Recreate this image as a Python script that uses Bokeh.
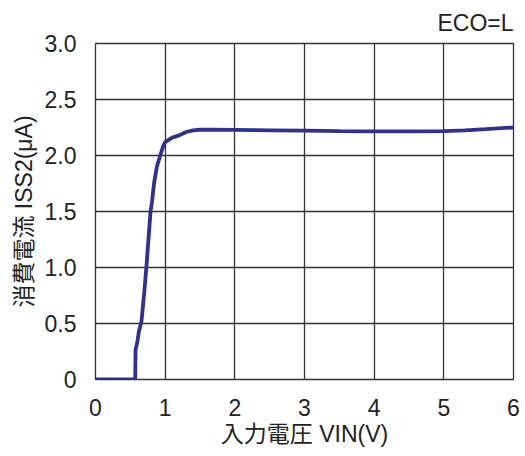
from bokeh.plotting import figure
from bokeh.models import FixedTicker, Range1d, ColumnDataSource, Title
from bokeh.embed import file_html
from bokeh.resources import INLINE

# Data
vin = [0.0, 0.57, 0.575, 0.6, 0.62, 0.66, 0.7, 0.73, 0.76, 0.79, 0.81, 0.84, 0.88,
       0.93, 0.97, 1.0, 1.05, 1.1, 1.2, 1.3, 1.4, 1.5, 1.7, 2.0, 2.5, 3.0, 3.5,
       4.0, 4.5, 5.0, 5.3, 5.6, 6.0]
iss2 = [0.0, 0.0, 0.27, 0.33, 0.42, 0.52, 0.78, 1.0, 1.25, 1.5, 1.58, 1.75, 1.9,
        2.0, 2.08, 2.12, 2.14, 2.16, 2.18, 2.21, 2.225, 2.23, 2.23, 2.228, 2.225,
        2.222, 2.218, 2.215, 2.215, 2.218, 2.225, 2.235, 2.25]

x_ticks = [0, 1, 2, 3, 4, 5, 6]
y_ticks = [0, 0.5, 1.0, 1.5, 2.0, 2.5, 3.0]
y_tick_labels = ["0", "0.5", "1.0", "1.5", "2.0", "2.5", "3.0"]
x_title = "入力電圧 VIN(V)"
y_title = "消費電流 ISS2(μA)"
note = "ECO=L"

FONT = "'Liberation Sans', 'Noto Sans CJK JP'"
col = "#222222"

p = figure(width=523, height=450, output_backend="svg", toolbar_location=None,
           x_range=Range1d(0, 6), y_range=Range1d(0, 3),
           min_border_left=95, min_border_right=10, min_border_top=42,
           min_border_bottom=71)
p.background_fill_color = "white"
p.border_fill_color = "white"
p.outline_line_color = "#333333"
p.outline_line_width = 1.3

src = ColumnDataSource(dict(x=vin, y=iss2))
p.line("x", "y", source=src, line_color="#2e3192", line_width=3.8)

for ax in (p.xaxis[0], p.yaxis[0]):
    ax.axis_line_color = None
    ax.major_tick_line_color = None
    ax.minor_tick_line_color = None
    ax.major_label_text_font = FONT
    ax.major_label_text_font_size = "23px"
    ax.major_label_text_color = col
    ax.axis_label_text_font = FONT
    ax.axis_label_text_font_size = "23px"
    ax.axis_label_text_font_style = "normal"
    ax.axis_label_text_color = col

p.xaxis[0].ticker = FixedTicker(ticks=x_ticks)
p.yaxis[0].ticker = FixedTicker(ticks=y_ticks)
p.yaxis[0].major_label_overrides = {t: l for t, l in zip(y_ticks, y_tick_labels)}
p.xaxis[0].major_label_standoff = 13
p.yaxis[0].major_label_standoff = 13
p.xaxis[0].axis_label = x_title
p.yaxis[0].axis_label = y_title
p.xaxis[0].axis_label_standoff = 2
p.yaxis[0].axis_label_standoff = 5

p.xgrid.grid_line_color = "#333333"
p.ygrid.grid_line_color = "#333333"
p.xgrid.grid_line_width = 1.3
p.ygrid.grid_line_width = 1.3
p.xgrid.ticker = FixedTicker(ticks=x_ticks)
p.ygrid.ticker = FixedTicker(ticks=y_ticks)

p.add_layout(Title(text=note, align="right", text_font=FONT,
                   text_font_size="23px", text_font_style="normal",
                   text_color=col, offset=0, standoff=15), "above")

open("out.html", "w").write(file_html(p, INLINE))
